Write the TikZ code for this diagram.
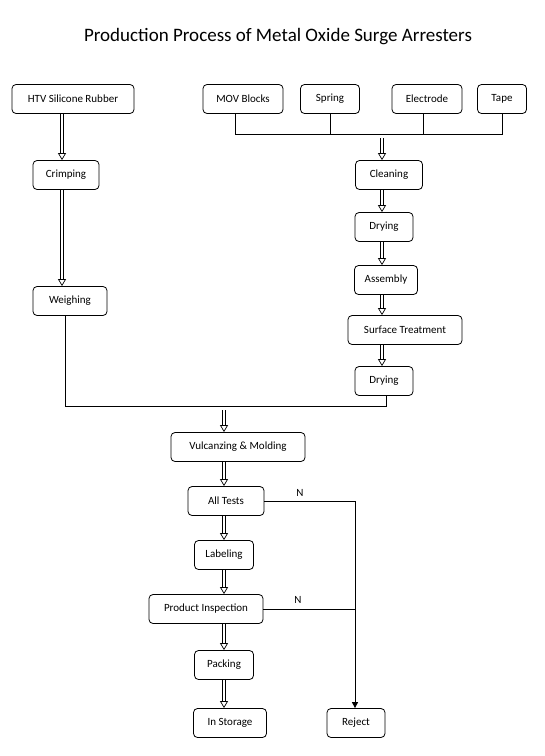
\documentclass[tikz,border=0pt]{standalone}
\usepackage{fontspec}
\setmainfont{Carlito}
\usepackage{tikz}
\usetikzlibrary{arrows.meta}

\begin{document}
\begin{tikzpicture}[
  x=1pt, y=-1pt,
  every node/.style={font=\fontsize{11}{13}\selectfont, align=center},
  procbox/.style={draw, rounded corners=4pt, line width=0.8pt, minimum width=#1, minimum height=29pt, inner sep=0pt},
  procbox/.default=60pt,
  flow/.style={double, double distance=2.8pt, line width=0.7pt, -{Triangle[open, length=7pt, width=8pt]}},
  link/.style={line width=0.9pt}
]
\useasboundingbox (0,0) rectangle (545,756);

\node (title) at (278,37) {\fontsize{19}{22}\selectfont Production Process of Metal Oxide Surge Arresters};

% left branch
\node[procbox=122pt] (htv) at (73,99) {HTV Silicone Rubber};
\node[procbox=66pt] (crimp) at (66,175) {Crimping};
\node[procbox=74pt] (weigh) at (70,301) {Weighing};

% right branch
\node[procbox=80pt] (mov) at (243,99) {MOV Blocks};
\node[procbox=59pt] (spring) at (330,99) {Spring};
\node[procbox=70pt] (electrode) at (427,99) {Electrode};
\node[procbox=49pt] (tape) at (502,99) {Tape};
\node[procbox=67pt] (clean) at (389,175) {Cleaning};
\node[procbox=58pt] (dry1) at (384,227) {Drying};
\node[procbox=63pt] (assem) at (386,280) {Assembly};
\node[procbox=114pt] (surf) at (405,330) {Surface Treatment};
\node[procbox=58pt] (dry2) at (384,381) {Drying};

% main line
\node[procbox=134pt] (vulc) at (238,447) {Vulcanzing \& Molding};
\node[procbox=76pt] (tests) at (226,501) {All Tests};
\node[procbox=59pt] (label) at (224,555) {Labeling};
\node[procbox=114pt] (inspect) at (206,609) {Product Inspection};
\node[procbox=59pt] (pack) at (224,665) {Packing};
\node[procbox=73pt] (store) at (230,723) {In Storage};
\node[procbox=58pt] (reject) at (356,723) {Reject};

\node (na) at (300,493) {N};
\node (nb) at (298,600) {N};

\coordinate (merge) at (382,134);
\coordinate (join) at (224,406);

% left flow
\draw[flow] (htv.south -| 62,0) -- (62,0 |- crimp.north);
\draw[flow] (crimp.south -| 62,0) -- (62,0 |- weigh.north);

% materials bus
\draw[link] (mov.south -| 235,0) -- (235,0 |- merge) -- (merge -| tape.south) -- (tape.south);
\draw[link] (spring.south) -- (spring.south |- merge);
\draw[link] (electrode.south -| 423,0) -- (423,0 |- merge);
\draw[flow] (merge) ++(0,4) -- (merge |- clean.north);
\draw[flow] (clean.south -| merge) -- (merge |- dry1.north);
\draw[flow] (dry1.south -| merge) -- (merge |- assem.north);
\draw[flow] (assem.south -| merge) -- (merge |- surf.north);
\draw[flow] (surf.south -| merge) -- (merge |- dry2.north);

% joining both branches
\draw[link] (weigh.south -| 65,0) -- (65,0 |- join) -- (join -| 386,0) -- (386,0 |- dry2.south);
\draw[flow] (join) ++(0,4) -- (join |- vulc.north);

% main flow
\draw[flow] (vulc.south -| join) -- (join |- tests.north);
\draw[flow] (tests.south -| join) -- (join |- label.north);
\draw[flow] (label.south -| join) -- (join |- inspect.north);
\draw[flow] (inspect.south -| join) -- (join |- pack.north);
\draw[flow] (pack.south -| join) -- (join |- store.north);

% rejects
\draw[link, -{Triangle[length=6pt, width=6pt]}] (tests.east) -- (tests.east -| 355,0) -- (355,0 |- reject.north);
\draw[link] (inspect.east) -- (inspect.east -| 355,0);

\end{tikzpicture}
\end{document}
